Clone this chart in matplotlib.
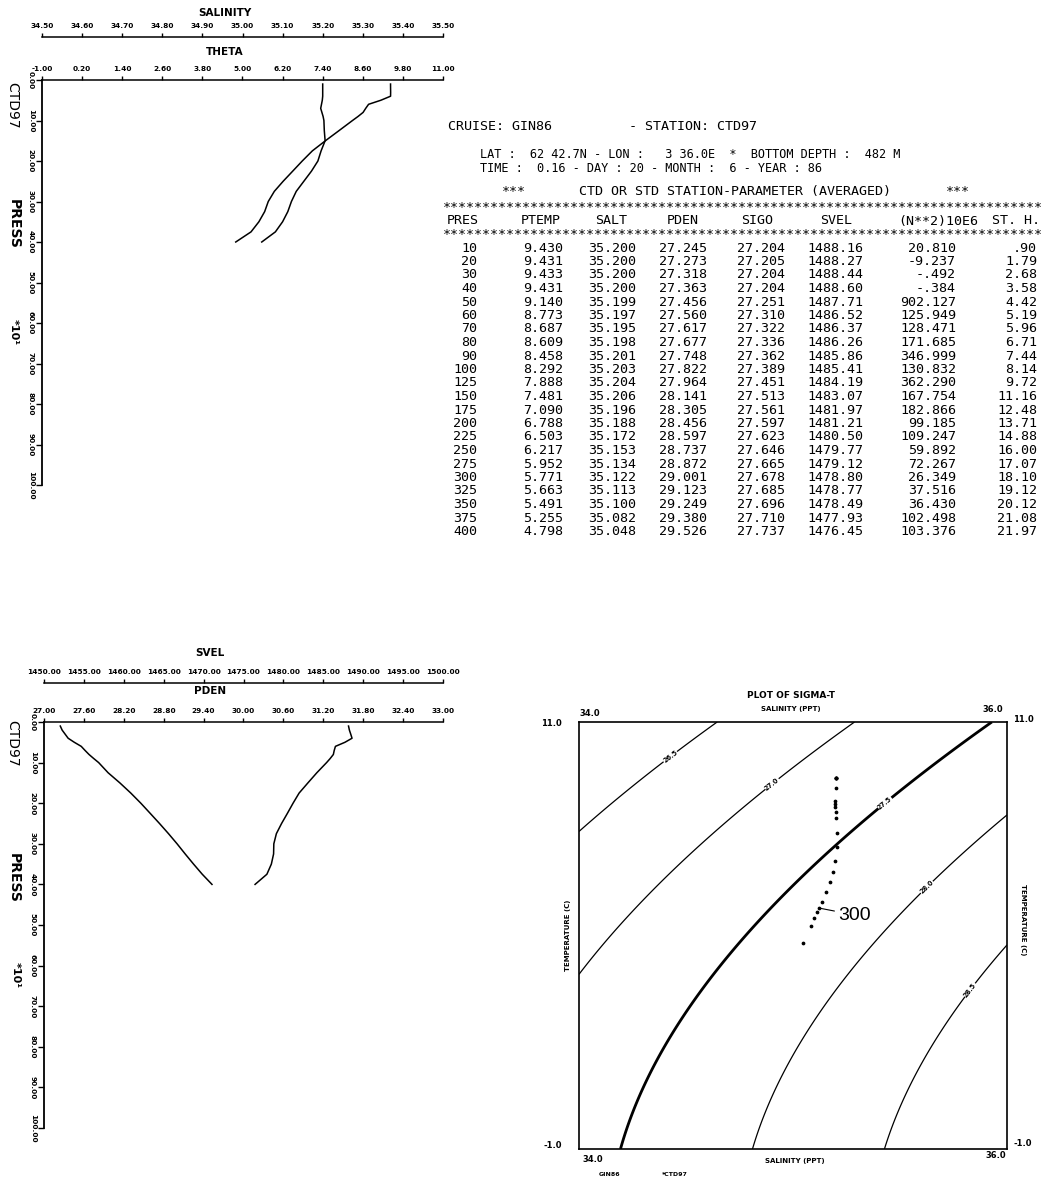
import numpy as np
import matplotlib
matplotlib.use('Agg')
import matplotlib.pyplot as plt

# ---------------- data (from the printed table) ----------------
PRES = [10, 20, 30, 40, 50, 60, 70, 80, 90, 100, 125, 150, 175, 200, 225, 250,
        275, 300, 325, 350, 375, 400]
PTEMP = [9.430, 9.431, 9.433, 9.431, 9.140, 8.773, 8.687, 8.609, 8.458, 8.292,
         7.888, 7.481, 7.090, 6.788, 6.503, 6.217, 5.952, 5.771, 5.663, 5.491,
         5.255, 4.798]
SALT = [35.200, 35.200, 35.200, 35.200, 35.199, 35.197, 35.195, 35.198, 35.201,
        35.203, 35.204, 35.206, 35.196, 35.188, 35.172, 35.153, 35.134, 35.122,
        35.113, 35.100, 35.082, 35.048]
PDEN = [27.245, 27.273, 27.318, 27.363, 27.456, 27.560, 27.617, 27.677, 27.748,
        27.822, 27.964, 28.141, 28.305, 28.456, 28.597, 28.737, 28.872, 29.001,
        29.123, 29.249, 29.380, 29.526]
SIGO = [27.204, 27.205, 27.204, 27.204, 27.251, 27.310, 27.322, 27.336, 27.362,
        27.389, 27.451, 27.513, 27.561, 27.597, 27.623, 27.646, 27.665, 27.678,
        27.685, 27.696, 27.710, 27.737]
SVEL = [1488.16, 1488.27, 1488.44, 1488.60, 1487.71, 1486.52, 1486.37, 1486.26,
        1485.86, 1485.41, 1484.19, 1483.07, 1481.97, 1481.21, 1480.50, 1479.77,
        1479.12, 1478.80, 1478.77, 1478.49, 1477.93, 1476.45]
N2 = [20.810, -9.237, -0.492, -0.384, 902.127, 125.949, 128.471, 171.685,
      346.999, 130.832, 362.290, 167.754, 182.866, 99.185, 109.247, 59.892,
      72.267, 26.349, 37.516, 36.430, 102.498, 103.376]
STH = [0.90, 1.79, 2.68, 3.58, 4.42, 5.19, 5.96, 6.71, 7.44, 8.14, 9.72, 11.16,
       12.48, 13.71, 14.88, 16.00, 17.07, 18.10, 19.12, 20.12, 21.08, 21.97]

THETA_TICKS = [-1.0, 0.2, 1.4, 2.6, 3.8, 5.0, 6.2, 7.4, 8.6, 9.8, 11.0]
SAL_TICKS = [34.5, 34.6, 34.7, 34.8, 34.9, 35.0, 35.1, 35.2, 35.3, 35.4, 35.5]
PDEN_TICKS = [27.0, 27.6, 28.2, 28.8, 29.4, 30.0, 30.6, 31.2, 31.8, 32.4, 33.0]
SVEL_TICKS = [1450, 1455, 1460, 1465, 1470, 1475, 1480, 1485, 1490, 1495, 1500]
PRESS_TICKS = [0, 10, 20, 30, 40, 50, 60, 70, 80, 90, 100]
SIGMA_LEVELS = [26.5, 27.0, 27.5, 28.0, 28.5]
SIGMA_LABEL_POS = [(34.43, 10.0), (34.91, 9.2), (35.43, 8.72), (35.63, 6.33), (35.84, 3.41)]

# UNESCO 1981 equation of state coefficients (p = 0)
RW = [999.842594, 6.793952e-2, -9.095290e-3, 1.001685e-4, -1.120083e-6, 6.536332e-9]
RB = [0.824493, -4.0899e-3, 7.6438e-5, -8.2467e-7, 5.3875e-9]
RC = [-5.72466e-3, 1.0227e-4, -1.6546e-6]
RD = 4.8314e-4

W, H = 1045, 1179
fig = plt.figure(figsize=(W / 100, H / 100), dpi=100)
PT = 0.72  # points per pixel


def fbox(x0, y0, x1, y1):
    return [x0 / W, 1 - y1 / H, (x1 - x0) / W, (y1 - y0) / H]


def ptext(x, y, s, **kw):
    kw.setdefault('va', 'center')
    fig.text(x / W, 1 - y / H, s, **kw)


TICKFS = 5.3


def profile_panel(box, top_ticks, top_lim, up_ticks, up_lim, up_offset):
    ax = fig.add_axes(fbox(*box))
    ax2 = ax.twiny()
    for a in (ax, ax2):
        a.patch.set_visible(False)
        for s in ('right', 'bottom'):
            a.spines[s].set_visible(False)
    ax2.spines['left'].set_visible(False)
    ax.xaxis.tick_top()
    ax.set_xlim(*top_lim)
    ax.set_ylim(100, 0)
    ax2.set_xlim(*up_lim)
    ax2.spines['top'].set_position(('outward', up_offset * PT))
    for a in (ax, ax2):
        a.spines['top'].set_linewidth(1.1)
    ax.spines['left'].set_linewidth(1.3)
    ax.set_xticks(top_ticks, labels=['%.2f' % v for v in top_ticks],
                  fontsize=TICKFS, fontweight='bold')
    ax2.set_xticks(up_ticks, labels=['%.2f' % v for v in up_ticks],
                   fontsize=TICKFS, fontweight='bold')
    ax.set_yticks(PRESS_TICKS, labels=['%.2f' % v for v in PRESS_TICKS],
                  fontsize=TICKFS, fontweight='bold', rotation=-90, va='center')
    ax.tick_params(axis='x', direction='out', length=3, width=1, pad=3)
    ax2.tick_params(axis='x', direction='out', length=3, width=1, pad=3)
    ax.tick_params(axis='y', direction='out', length=4, width=1, pad=2)
    return ax, ax2


pres_axis = [p / 10.0 for p in PRES]

# ---------------- top-left: THETA / SALINITY ----------------
ax1, ax1s = profile_panel((42, 80, 443, 485), THETA_TICKS, (-1, 11),
                          SAL_TICKS, (34.5, 35.5), 43)
ax1.plot(PTEMP, pres_axis, color='black', lw=1.1)
ax1s.plot(SALT, pres_axis, color='black', lw=1.1)
ptext(225, 13, 'SALINITY', ha='center', fontsize=7.5, fontweight='bold')
ptext(225, 52, 'THETA', ha='center', fontsize=7.5, fontweight='bold')
ptext(12, 105, 'CTD97', ha='center', rotation=-90, fontsize=10)
ptext(14, 224, 'PRESS', ha='center', rotation=-90, fontsize=10, fontweight='bold')
ptext(14, 332, '*10¹', ha='center', rotation=-90, fontsize=8, fontweight='bold')

# ---------------- bottom-left: PDEN / SVEL ----------------
ax2, ax2s = profile_panel((44, 722, 443, 1128), PDEN_TICKS, (27.0, 33.0),
                          SVEL_TICKS, (1450, 1500), 39)
ax2.plot(PDEN, pres_axis, color='black', lw=1.1)
ax2s.plot(SVEL, pres_axis, color='black', lw=1.1)
ptext(210, 653, 'SVEL', ha='center', fontsize=7.5, fontweight='bold')
ptext(210, 691, 'PDEN', ha='center', fontsize=7.5, fontweight='bold')
ptext(12, 743, 'CTD97', ha='center', rotation=-90, fontsize=10)
ptext(14, 878, 'PRESS', ha='center', rotation=-90, fontsize=10, fontweight='bold')
ptext(16, 975, '*10¹', ha='center', rotation=-90, fontsize=8, fontweight='bold')

# ---------------- table ----------------
MONO = 'DejaVu Sans Mono'
TFS = 9.6
HFS = 8.6
ptext(448, 127, 'CRUISE: GIN86', ha='left', family=MONO, fontsize=TFS)
ptext(629, 127, '- STATION: CTD97', ha='left', family=MONO, fontsize=TFS)
ptext(480, 155, 'LAT :  62 42.7N - LON :   3 36.0E  *  BOTTOM DEPTH :  482 M',
      ha='left', family=MONO, fontsize=HFS)
ptext(480, 169, 'TIME :  0.16 - DAY : 20 - MONTH :  6 - YEAR : 86',
      ha='left', family=MONO, fontsize=HFS)
ptext(502, 192, '***', ha='left', family=MONO, fontsize=TFS)
ptext(579, 192, 'CTD OR STD STATION-PARAMETER (AVERAGED)', ha='left', family=MONO, fontsize=TFS)
ptext(946, 192, '***', ha='left', family=MONO, fontsize=TFS)
ptext(443, 207, '*' * 75, ha='left', family=MONO, fontsize=TFS)
ptext(443, 235, '*' * 75, ha='left', family=MONO, fontsize=TFS)
for s, x in [('PRES', 447), ('PTEMP', 521), ('SALT', 595), ('PDEN', 667), ('SIGO', 741),
             ('SVEL', 820), ('(N**2)10E6', 898)]:
    ptext(x, 221, s, ha='left', family=MONO, fontsize=TFS)
ptext(1040, 221, 'ST. H.', ha='right', family=MONO, fontsize=TFS)


def f3(v):
    s = '%.3f' % v
    return s.replace('-0.', '-.') if s.startswith('-0.') else s


def f2(v):
    s = '%.2f' % v
    return s[1:] if s.startswith('0.') else s


columns = [
    (PRES, lambda v: '%d' % v, 477),
    (PTEMP, lambda v: '%.3f' % v, 563),
    (SALT, lambda v: '%.3f' % v, 636),
    (PDEN, lambda v: '%.3f' % v, 707),
    (SIGO, lambda v: '%.3f' % v, 785),
    (SVEL, lambda v: '%.2f' % v, 863),
    (N2, f3, 956),
    (STH, f2, 1037),
]
ROW0, DROW = 248, 13.5
for vals, fmt, xr in columns:
    for i, v in enumerate(vals):
        ptext(xr, ROW0 + i * DROW, fmt(v), ha='right', family=MONO, fontsize=TFS)

# ---------------- right: T-S diagram ----------------
ax3 = fig.add_axes(fbox(579, 722, 1007, 1149))
ax3.set_xlim(34.0, 36.0)
ax3.set_ylim(-1.0, 11.0)
ax3.set_xticks([])
ax3.set_yticks([])
for s in ax3.spines.values():
    s.set_linewidth(1.2)

Sg, Tg = np.meshgrid(np.linspace(34.0, 36.0, 300), np.linspace(-1.0, 11.0, 300))
rho_w = sum(c * Tg ** k for k, c in enumerate(RW))
B = sum(c * Tg ** k for k, c in enumerate(RB))
C = sum(c * Tg ** k for k, c in enumerate(RC))
sigma_t = rho_w + B * Sg + C * Sg ** 1.5 + RD * Sg ** 2 - 1000.0
lws = [2.0 if abs(lv - 27.5) < 1e-6 else 0.9 for lv in SIGMA_LEVELS]
cs = ax3.contour(Sg, Tg, sigma_t, levels=SIGMA_LEVELS, colors='black', linewidths=lws)
lbls = ax3.clabel(cs, fmt='%.1f', fontsize=4.8, manual=SIGMA_LABEL_POS, inline=True,
                  inline_spacing=1)
for t in lbls:
    t.set_fontweight('bold')

ax3.plot(SALT, PTEMP, linestyle='none', marker='o', ms=1.7, color='black')
i300 = PRES.index(300)
ax3.annotate('300', xy=(SALT[i300], PTEMP[i300]), xytext=(14, -5), textcoords='offset points',
             ha='left', va='center', fontsize=14, family='Liberation Sans',
             arrowprops=dict(arrowstyle='-', lw=0.8, color='black', shrinkA=1, shrinkB=1))

ptext(791, 695, 'PLOT OF SIGMA-T', ha='center', fontsize=6.5, fontweight='bold')
ptext(791, 709, 'SALINITY (PPT)', ha='center', fontsize=5, fontweight='bold')
ptext(590, 714, '34.0', ha='center', fontsize=6, fontweight='bold')
ptext(993, 710, '36.0', ha='center', fontsize=6, fontweight='bold')
ptext(562, 724, '11.0', ha='right', fontsize=6, fontweight='bold')
ptext(1013, 719, '11.0', ha='left', fontsize=6, fontweight='bold')
ptext(562, 1146, '-1.0', ha='right', fontsize=6, fontweight='bold')
ptext(1013, 1143, '-1.0', ha='left', fontsize=6, fontweight='bold')
ptext(593, 1159, '34.0', ha='center', fontsize=6, fontweight='bold')
ptext(996, 1156, '36.0', ha='center', fontsize=6, fontweight='bold')
ptext(795, 1161, 'SALINITY (PPT)', ha='center', fontsize=5, fontweight='bold')
ptext(568, 935, 'TEMPERATURE (C)', ha='center', rotation=90, fontsize=5, fontweight='bold')
ptext(1023, 920, 'TEMPERATURE (C)', ha='center', rotation=-90, fontsize=5, fontweight='bold')
ptext(610, 1174, 'GIN86', ha='center', fontsize=4.5, fontweight='bold')
ptext(675, 1174, '*CTD97', ha='center', fontsize=4.5, fontweight='bold')

fig.savefig('out.png', dpi=100, facecolor='white')
